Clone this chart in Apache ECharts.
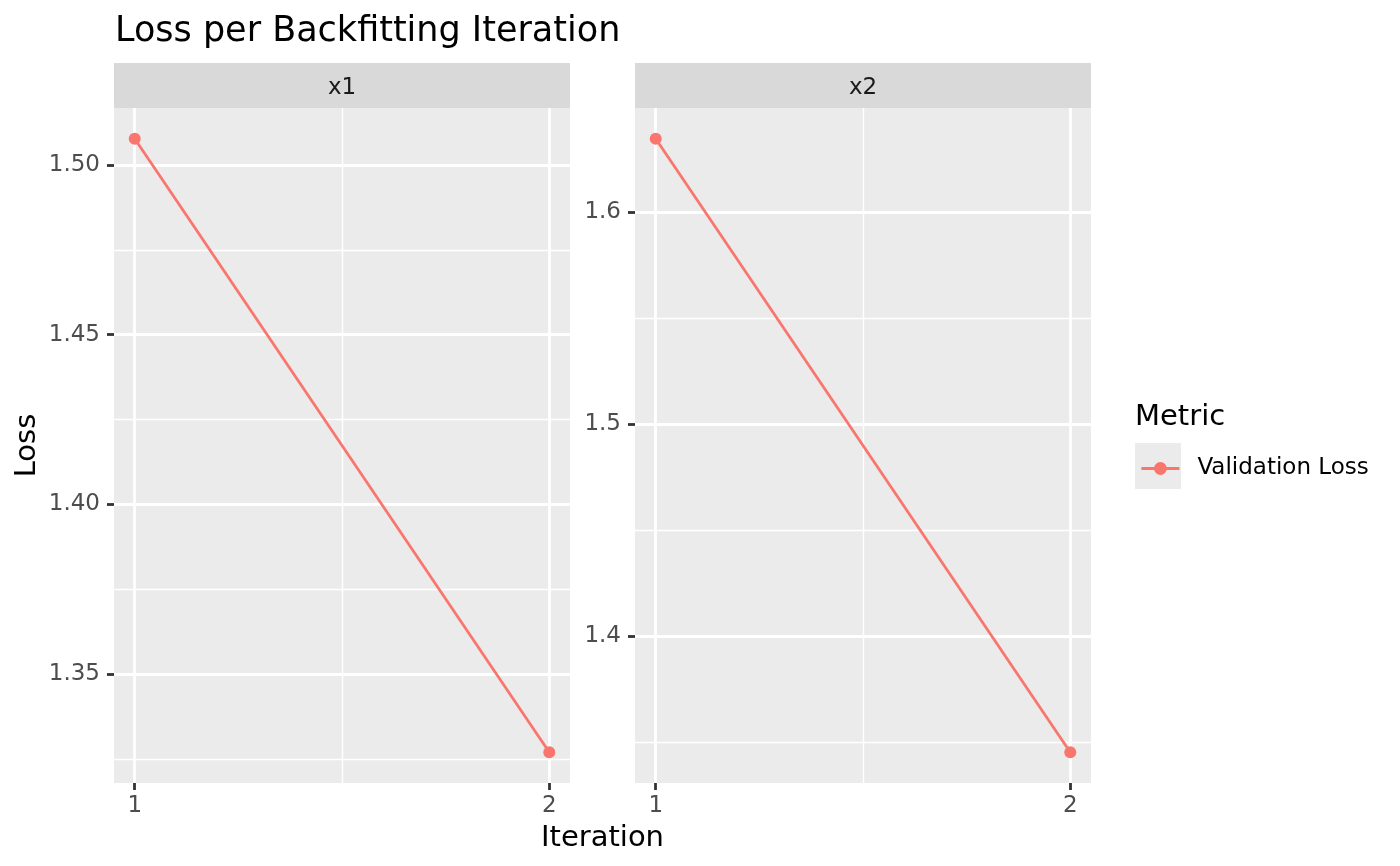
<!DOCTYPE html>
<html><head><meta charset="utf-8">
<script src="https://cdn.jsdelivr.net/npm/echarts@6/dist/echarts.min.js"></script>
<style>html,body{margin:0;padding:0;background:#fff}#c{width:1400px;height:866px}</style>
</head><body><div id="c"></div>
<script>
// ---- data ----
const iterations = [1, 2];
const facets = ['x1', 'x2'];
const seriesName = 'Validation Loss';
const lossX1 = [1.5078, 1.3269];
const lossX2 = [1.6346, 1.3451];
const xTicks = [1, 2];
const xMinorTicks = [1.5];
const yTicksX1 = [1.35, 1.40, 1.45, 1.50];
const yMinorX1 = [1.325, 1.375, 1.425, 1.475];
const yTicksX2 = [1.4, 1.5, 1.6];
const yMinorX2 = [1.35, 1.45, 1.55];
const yDecimals = [2, 1];

// ---- layout / style ----
const FONT = '"DejaVu Sans", sans-serif';
const PANEL_TOP = 108, PANEL_H = 675, PANEL_W = 456;
const panelLefts = [114, 635];
const STRIP_TOP = 63, STRIP_H = 45;
const LINE_COLOR = '#F8766D';

const losses = [lossX1, lossX2];
const yTicks = [yTicksX1, yTicksX2];
const yMinors = [yMinorX1, yMinorX2];

function expand(arr) {
  const mn = Math.min(...arr), mx = Math.max(...arr), r = mx - mn;
  return [mn - 0.05 * r, mx + 0.05 * r];
}
const xExt = expand(iterations);

const grids = [], xAxes = [], yAxes = [], series = [], graphics = [];
facets.forEach((f, i) => {
  grids.push({
    left: panelLefts[i], top: PANEL_TOP, width: PANEL_W, height: PANEL_H,
    show: true, backgroundColor: '#EBEBEB', borderWidth: 0, containLabel: false
  });
  const yExt = expand(losses[i]);
  // major x
  xAxes.push({
    type: 'value', gridIndex: i, min: xExt[0], max: xExt[1], position: 'bottom',
    axisLine: { show: false },
    axisTick: { show: true, customValues: xTicks, length: 7, lineStyle: { color: '#333333', width: 2.8 } },
    axisLabel: { customValues: xTicks, margin: 12, color: '#4D4D4D', fontSize: 23, fontFamily: FONT },
    splitLine: { show: true, lineStyle: { color: '#FFFFFF', width: 2.8 } }
  });
  // minor x
  xAxes.push({
    type: 'value', gridIndex: i, min: xExt[0], max: xExt[1], position: 'bottom',
    axisLine: { show: false },
    axisTick: { show: false, customValues: xMinorTicks },
    axisLabel: { show: false },
    splitLine: { show: true, lineStyle: { color: '#FFFFFF', width: 1.4 } }
  });
  const dec = yDecimals[i];
  const yMajor = {
    type: 'value', gridIndex: i, min: yExt[0], max: yExt[1], position: 'left',
    axisLine: { show: false },
    axisTick: { show: true, customValues: yTicks[i], length: 7, lineStyle: { color: '#333333', width: 2.8 } },
    axisLabel: { customValues: yTicks[i], margin: 14, color: '#4D4D4D', fontSize: 23, fontFamily: FONT,
      formatter: v => Number(v).toFixed(dec) },
    splitLine: { show: true, lineStyle: { color: '#FFFFFF', width: 2.8 } }
  };
  if (i === 0) {
    Object.assign(yMajor, {
      name: 'Loss', nameLocation: 'middle', nameGap: 72, nameRotate: 90,
      nameTextStyle: { fontSize: 29, color: '#000000', fontFamily: FONT }
    });
  }
  yAxes.push(yMajor);
  yAxes.push({
    type: 'value', gridIndex: i, min: yExt[0], max: yExt[1], position: 'left',
    axisLine: { show: false },
    axisTick: { show: false, customValues: yMinors[i] },
    axisLabel: { show: false },
    splitLine: { show: true, lineStyle: { color: '#FFFFFF', width: 1.4 } }
  });
  series.push({
    name: seriesName, type: 'line', xAxisIndex: 2 * i, yAxisIndex: 2 * i,
    data: iterations.map((it, k) => [it, losses[i][k]]),
    symbol: 'circle', symbolSize: 12, showSymbol: true,
    lineStyle: { color: LINE_COLOR, width: 2.8 },
    itemStyle: { color: LINE_COLOR, borderWidth: 0 },
    z: 5
  });
  // strip
  graphics.push({
    type: 'rect', x: panelLefts[i], y: STRIP_TOP,
    shape: { x: 0, y: 0, width: PANEL_W, height: STRIP_H },
    style: { fill: '#D9D9D9' }, silent: true
  });
  graphics.push({
    type: 'text', x: panelLefts[i] + PANEL_W / 2, y: STRIP_TOP + STRIP_H / 2 + 3,
    style: { text: f, fill: '#1A1A1A', font: '23px ' + FONT, align: 'center', verticalAlign: 'middle' },
    silent: true
  });
});

// x axis title
graphics.push({
  type: 'text', x: (panelLefts[0] + panelLefts[1] + PANEL_W) / 2, y: 838,
  style: { text: 'Iteration', fill: '#000000', font: '29px ' + FONT, align: 'center', verticalAlign: 'middle' },
  silent: true
});
// legend title and key background
graphics.push({
  type: 'text', x: 1135, y: 417,
  style: { text: 'Metric', fill: '#000000', font: '29px ' + FONT, align: 'left', verticalAlign: 'middle' },
  silent: true
});
graphics.push({
  type: 'rect', x: 1135, y: 443, shape: { x: 0, y: 0, width: 46, height: 46 },
  style: { fill: '#EBEBEB' }, silent: true, z: -1
});

const chart = echarts.init(document.getElementById('c'), null, { renderer: 'canvas' });
chart.setOption({
  animation: false,
  backgroundColor: '#FFFFFF',
  title: {
    text: 'Loss per Backfitting Iteration', left: 115, top: 14, padding: 0,
    textStyle: { fontSize: 35, fontWeight: 'normal', color: '#000000', fontFamily: FONT }
  },
  legend: {
    data: [seriesName], left: 1140, top: 457, padding: 0, orient: 'vertical',
    itemWidth: 38, itemHeight: 16,
    lineStyle: { width: 2.8, color: LINE_COLOR },
    itemStyle: { color: LINE_COLOR, borderWidth: 0 },
    textStyle: { fontSize: 23, color: '#000000', fontFamily: FONT, padding: [0, 0, 0, 13] }
  },
  grid: grids,
  xAxis: xAxes,
  yAxis: yAxes,
  series: series,
  graphic: graphics
});
</script>
</body></html>
